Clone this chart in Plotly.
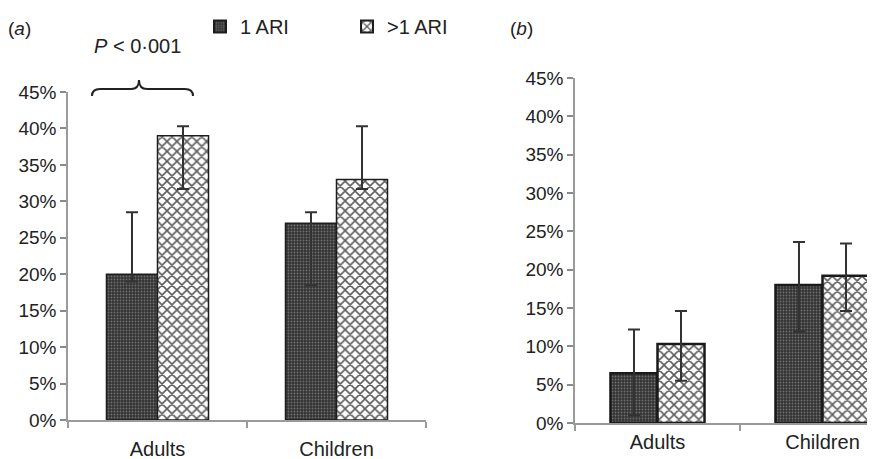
import plotly.graph_objects as go

categories = ["Adults", "Children"]
series_names = ["1 ARI", ">1 ARI"]

# Panel (a) values (%) and asymmetric error bar extents
a_one = [20, 27]
a_one_plus = [8.5, 1.5]
a_one_minus = [1.0, 8.5]
a_multi = [39, 33]
a_multi_plus = [1.3, 7.3]
a_multi_minus = [7.3, 1.3]

# Panel (b)
b_one = [6.5, 18.0]
b_one_plus = [5.7, 5.6]
b_one_minus = [5.5, 6.1]
b_multi = [10.3, 19.2]
b_multi_plus = [4.3, 4.2]
b_multi_minus = [4.8, 4.6]

y_ticks = [0, 5, 10, 15, 20, 25, 30, 35, 40, 45]
y_tick_labels = ["0%", "5%", "10%", "15%", "20%", "25%", "30%", "35%", "40%", "45%"]

W, H = 875, 459
OFF = 8  # page body margin offset
FONT = "Liberation Sans, Arial, sans-serif"
TXT = "#222222"

dark_pat = dict(shape=".", bgcolor="#333333", fgcolor="#6f6f6f", size=3, solidity=0.3, fillmode="replace")
light_pat = dict(shape="x", bgcolor="#ffffff", fgcolor="#5e5e5e", size=7, solidity=0.4, fillmode="replace")


def err(plus, minus):
    return dict(type="data", symmetric=False, array=plus, arrayminus=minus,
                color="#333333", thickness=2, width=6)


fig = go.Figure()
fig.add_trace(go.Bar(x=categories, y=a_one, name=series_names[0], xaxis="x", yaxis="y",
                     marker=dict(color="#333333", pattern=dark_pat, line=dict(color="#1e1e1e", width=1.5)),
                     error_y=err(a_one_plus, a_one_minus)))
fig.add_trace(go.Bar(x=categories, y=a_multi, name=series_names[1], xaxis="x", yaxis="y",
                     marker=dict(color="#ffffff", pattern=light_pat, line=dict(color="#1e1e1e", width=1.5)),
                     error_y=err(a_multi_plus, a_multi_minus)))
fig.add_trace(go.Bar(x=categories, y=b_one, name=series_names[0], xaxis="x2", yaxis="y2", showlegend=False,
                     marker=dict(color="#333333", pattern=dark_pat, line=dict(color="#1a1a1a", width=2.5)),
                     error_y=err(b_one_plus, b_one_minus)))
fig.add_trace(go.Bar(x=categories, y=b_multi, name=series_names[1], xaxis="x2", yaxis="y2", showlegend=False,
                     marker=dict(color="#ffffff", pattern=light_pat, line=dict(color="#1a1a1a", width=2.5)),
                     error_y=err(b_multi_plus, b_multi_minus)))


def px(x):
    return (x - OFF) / W


def py(y):
    return 1 - (y - OFF) / H


yax_common = dict(range=[0, 45], tickmode="array", tickvals=y_ticks, ticktext=y_tick_labels,
                  showgrid=False, zeroline=False, automargin=False,
                  showline=True, linecolor="#9a9a9a", linewidth=1.5, ticks="outside", ticklen=6,
                  tickcolor="#8a8a8a", tickwidth=2, tickfont=dict(size=19, color=TXT, family=FONT))
xax_common = dict(showgrid=False, zeroline=False, showline=True, linecolor="#9a9a9a", linewidth=2,
                  automargin=False, ticks="outside", tickson="boundaries", ticklen=6, tickcolor="#9a9a9a",
                  tickwidth=1.5, tickfont=dict(size=20, color=TXT, family=FONT), type="category")

# panel (b) axis runs past the right edge of the window
b_left = 575
b_unit = 165
b_right_page = W + OFF
b_range_hi = -0.5 + (b_right_page - b_left) / b_unit

fig.update_layout(
    width=W, height=H,
    margin=dict(l=0, r=0, t=0, b=0, autoexpand=False),
    paper_bgcolor="white", plot_bgcolor="white",
    barmode="group", bargap=0.43, bargroupgap=0,
    font=dict(family=FONT, color=TXT, size=19),
    xaxis=dict(domain=[px(68), px(426)], range=[-0.5, 1.5], anchor="y", ticklabelstandoff=10, **xax_common),
    yaxis=dict(domain=[py(420), py(92)], anchor="x", **yax_common),
    xaxis2=dict(domain=[px(b_left), 1.0], range=[-0.5, b_range_hi], anchor="y2", ticklabelstandoff=0,
                **xax_common),
    yaxis2=dict(domain=[py(423), py(78)], anchor="x2", **yax_common),
    legend=dict(orientation="h", x=px(200), y=py(7), xanchor="left", yanchor="top",
                entrywidth=102, entrywidthmode="pixels", font=dict(size=20, color=TXT, family=FONT),
                bgcolor="rgba(0,0,0,0)", itemsizing="constant"),
    showlegend=True,
)

fig.add_annotation(text="(<i>a</i>)", x=px(6), y=py(28), xref="paper", yref="paper", xanchor="left",
                   yanchor="middle", showarrow=False, font=dict(size=19, color=TXT, family=FONT))
fig.add_annotation(text="(<i>b</i>)", x=px(508), y=py(28), xref="paper", yref="paper", xanchor="left",
                   yanchor="middle", showarrow=False, font=dict(size=19, color=TXT, family=FONT))
fig.add_annotation(text="<i>P</i> < 0·001", x=px(137), y=py(46), xref="paper", yref="paper", xanchor="center",
                   yanchor="middle", showarrow=False, font=dict(size=20, color=TXT, family=FONT))

# curly brace over the Adults pair in panel (a)
pts = [(92, 96), (92, 89), (100, 89), (131, 89), (139, 89), (139, 80), (139, 89), (147, 89), (185, 89), (193, 89), (193, 96)]
p = [(px(a), py(b)) for a, b in pts]
path = (f"M {p[0][0]},{p[0][1]} Q {p[1][0]},{p[1][1]} {p[2][0]},{p[2][1]} L {p[3][0]},{p[3][1]} "
        f"Q {p[4][0]},{p[4][1]} {p[5][0]},{p[5][1]} Q {p[6][0]},{p[6][1]} {p[7][0]},{p[7][1]} "
        f"L {p[8][0]},{p[8][1]} Q {p[9][0]},{p[9][1]} {p[10][0]},{p[10][1]}")
fig.add_shape(type="path", path=path, xref="paper", yref="paper", line=dict(color="#222222", width=2))

fig.write_html("out.html")
